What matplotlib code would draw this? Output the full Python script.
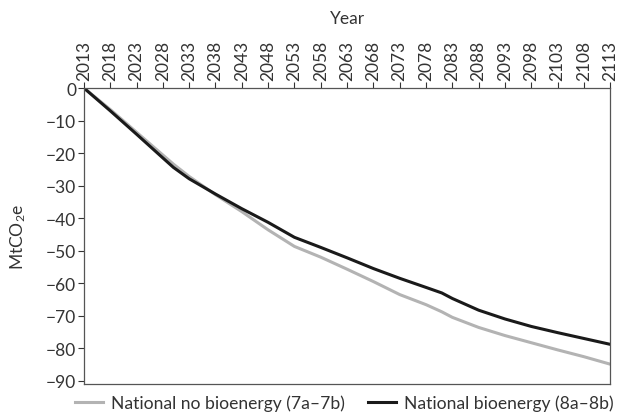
import matplotlib
matplotlib.use("Agg")
import matplotlib.pyplot as plt

plt.rcParams['font.family'] = ['Lato', 'DejaVu Sans']
plt.rcParams['mathtext.fontset'] = 'custom'
plt.rcParams['mathtext.rm'] = 'Lato'
plt.rcParams['mathtext.it'] = 'Lato'
plt.rcParams['mathtext.default'] = 'regular'

years = [2013, 2018, 2023, 2028, 2030, 2033, 2038, 2043, 2048, 2053, 2058, 2063,
         2068, 2073, 2078, 2081, 2083, 2088, 2093, 2098, 2103, 2108, 2113]
no_bio = [0, -6.6, -13.6, -20.6, -23.4, -27.2, -32.8, -38.0, -43.6, -48.7, -52.0, -55.7,
          -59.5, -63.5, -66.6, -68.8, -70.5, -73.6, -76.1, -78.3, -80.5, -82.6, -84.9]
bio = [0, -7.0, -14.2, -21.5, -24.4, -27.9, -32.6, -37.1, -41.3, -45.9, -49.0, -52.2,
       -55.5, -58.5, -61.3, -63.0, -64.7, -68.3, -71.0, -73.3, -75.2, -77.0, -78.8]
xticks = list(range(2013, 2114, 5))
yticks = list(range(0, -91, -10))
labels = ["National no bioenergy (7a\u20137b)", "National bioenergy (8a\u20138b)"]

fig = plt.figure(figsize=(6.17, 4.14), dpi=100)
ax = fig.add_axes([0.136, 0.070, 0.853, 0.715])
ax.plot(years, no_bio, color='#b3b3b3', lw=2.2, label=labels[0])
ax.plot(years, bio, color='#1a1a1a', lw=2.2, label=labels[1])

ax.set_xlim(2013, 2113)
ax.set_ylim(-91, 0)
ax.xaxis.tick_top()
ax.xaxis.set_label_position('top')
ax.set_xticks(xticks)
ax.set_xticklabels([str(x) for x in xticks], rotation=90)
ax.set_yticks(yticks)
ax.set_xlabel('Year', fontsize=12.5, color='#333333', labelpad=12)
ax.set_ylabel('MtCO$_2$e', fontsize=12.5, color='#333333', labelpad=13)
ax.tick_params(axis='both', labelsize=12.5, colors='#333333', length=4, width=0.8,
               direction='out', pad=1.5)
ax.tick_params(axis='x', top=True, bottom=False)
for s in ax.spines.values():
    s.set_color('#555555')
    s.set_linewidth(0.9)

fig.legend(loc='center', bbox_to_anchor=(0.558, 0.024), ncol=2, frameon=False,
           fontsize=12.6, handlelength=1.6, columnspacing=1.35, handletextpad=0.42,
           labelcolor='#333333', borderpad=0.1)

fig.savefig('out.png', dpi=100)
